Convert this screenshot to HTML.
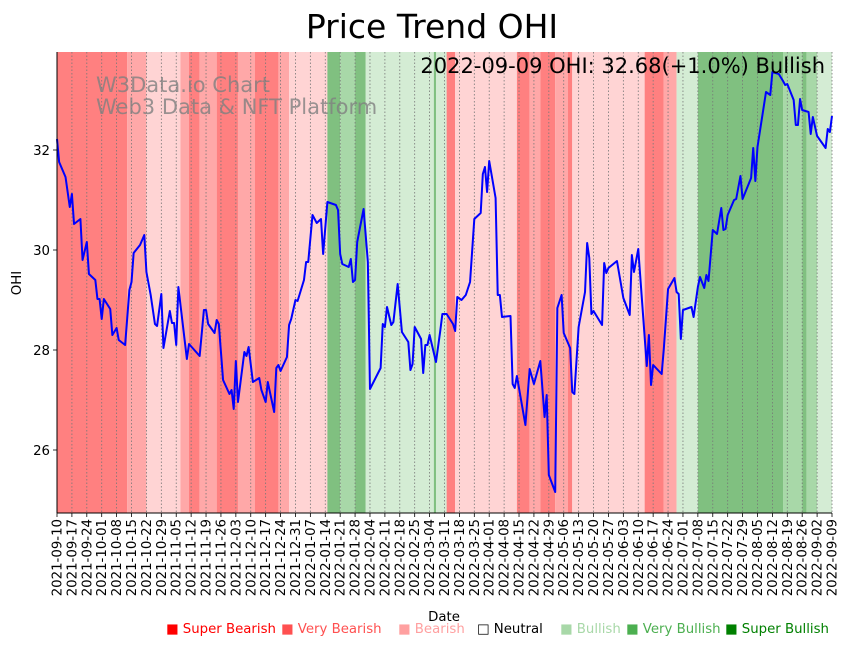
<!DOCTYPE html>
<html><head><meta charset="utf-8"><style>
body{margin:0;background:#fff;font-family:"DejaVu Sans","Liberation Sans",sans-serif}
#wrap{position:relative;width:848px;height:646px;overflow:hidden}
.leg{position:absolute;top:622px;font-size:13.3px;white-space:nowrap}
</style></head><body>
<div id="wrap">
<svg id="chart" width="848" height="646"></svg>
<span class="leg" style="left:166px;color:#ff0000">■ Super Bearish</span>
<span class="leg" style="left:281px;color:#ff5050">■ Very Bearish</span>
<span class="leg" style="left:398px;color:#ffa0a0">■ Bearish</span>
<span class="leg" style="left:477px;color:#000">□ Neutral</span>
<span class="leg" style="left:560px;color:#a8d8a8">■ Bullish</span>
<span class="leg" style="left:626px;color:#4caf50">■ Very Bullish</span>
<span class="leg" style="left:725px;color:#008000">■ Super Bullish</span>
</div>
<script>
const startDate = "2021-09-10";
const dayIdx = [0,1,4,6,7,8,11,12,14,15,18,19,20,21,22,25,26,28,29,32,34,35,36,39,41,42,44,46,47,49,50,53,54,55,56,57,61,62,67,69,70,71,74,75,76,78,81,82,83,84,85,88,89,90,92,95,96,98,99,102,103,104,105,108,109,110,112,113,116,117,118,120,122,124,125,127,131,132,133,134,137,138,139,140,141,144,146,147,152,153,154,155,157,158,160,162,165,166,167,168,171,172,173,174,175,178,180,181,183,186,187,188,190,192,194,196,199,200,201,202,203,206,207,208,209,213,214,215,216,220,222,224,227,229,230,231,234,235,237,238,241,242,243,245,248,249,250,251,252,256,257,258,259,263,266,269,270,271,273,277,278,279,280,284,285,287,290,291,292,293,294,298,299,301,302,304,305,306,308,310,312,313,314,315,318,319,321,322,326,327,328,329,333,335,336,339,341,342,343,346,347,348,349,350,353,354,355,357,361,362,363,364];
const prices = [32.22,31.76,31.46,30.86,31.12,30.52,30.62,29.80,30.16,29.52,29.40,29.02,29.02,28.62,29.02,28.82,28.30,28.44,28.20,28.10,29.20,29.36,29.94,30.10,30.30,29.56,29.10,28.52,28.48,29.12,28.04,28.78,28.54,28.54,28.10,29.26,27.82,28.12,27.88,28.80,28.80,28.52,28.34,28.60,28.52,27.40,27.12,27.20,26.82,27.78,26.96,27.96,27.88,28.06,27.36,27.44,27.20,26.96,27.36,26.76,27.64,27.70,27.58,27.86,28.50,28.62,29.00,28.98,29.40,29.76,29.76,30.70,30.54,30.62,29.92,30.96,30.90,30.80,29.92,29.72,29.66,29.82,29.36,29.40,30.16,30.82,29.76,27.22,27.64,28.52,28.46,28.86,28.50,28.56,29.32,28.36,28.16,27.60,27.72,28.46,28.22,27.54,28.10,28.10,28.30,27.76,28.38,28.72,28.72,28.52,28.38,29.06,29.00,29.10,29.36,30.62,30.74,31.52,31.66,31.16,31.78,31.04,29.10,29.10,28.66,28.68,27.32,27.24,27.48,26.50,27.62,27.32,27.78,26.66,27.10,25.50,25.16,28.84,29.10,28.34,28.04,27.16,27.12,28.46,29.16,30.14,29.84,28.72,28.78,28.50,29.74,29.54,29.64,29.78,29.04,28.70,29.90,29.56,30.02,27.68,28.30,27.30,27.70,27.52,28.02,29.22,29.44,29.16,29.12,28.22,28.80,28.86,28.66,29.26,29.46,29.24,29.50,29.38,30.40,30.32,30.84,30.40,30.42,30.70,31.00,31.02,31.48,31.02,31.44,32.04,31.38,32.06,33.16,33.10,33.56,33.52,33.38,33.30,33.32,33.00,32.50,32.50,33.02,32.80,32.76,32.32,32.66,32.28,32.04,32.42,32.36,32.68];
const bandStart = [0,33,42,58,62,67,75,85,93,104,109,127,133,140,145,177,178,183,187,216,222,227,234,240,242,276,285,291,301,341,350,352,357];
const bandEnd   = [33,42,58,62,67,75,85,93,104,109,127,133,140,145,177,178,183,187,216,222,227,234,240,242,276,285,291,301,341,350,352,357,365];
const bandLevel = [-3,-2,-1,-2,-3,-2,-3,-2,-3,-2,-1,3,2,3,1,3,1,-3,-1,-3,-2,-3,-2,-3,-1,-3,-2,1,3,2,3,2,1];
const yTicks = [26,28,30,32];
const totalDays = 364;

const NS="http://www.w3.org/2000/svg";
const svg=document.getElementById('chart');
const L=57,R=832,T=52,B=513, yMin=24.74,yMax=33.96;
const xS=d=>L+(d/totalDays)*(R-L);
const yS=v=>B-(v-yMin)/(yMax-yMin)*(B-T);
const lvlColor={"-3":"#ff8080","-2":"#ffa8a8","-1":"#ffd4d4","0":"#ffffff","1":"#d4ecd4","2":"#a8d8a8","3":"#80c080"};
function mk(tag,attrs,parent){const e=document.createElementNS(NS,tag);for(const k in attrs)e.setAttribute(k,attrs[k]);(parent||svg).appendChild(e);return e;}

for(let i=0;i<bandStart.length;i++){
  const r=mk('rect',{x:xS(bandStart[i]),y:T,width:Math.max(0,Math.min(R,xS(bandEnd[i]))-xS(bandStart[i])),height:B-T,fill:lvlColor[bandLevel[i]]});
  
  
}
function fmt(d){const t=new Date(startDate+"T00:00:00Z");t.setUTCDate(t.getUTCDate()+d);return t.toISOString().slice(0,10);}
for(let d=0;d<=totalDays;d+=7){
  const x=xS(d);
  const g=mk('line',{x1:x,x2:x,y1:T,y2:B,stroke:'#777','stroke-width':0.8,'stroke-dasharray':'1.5,2'});
  
  
  mk('line',{x1:x,x2:x,y1:B,y2:B+4,stroke:'#000','stroke-width':0.8});
  const t=mk('text',{x:0,y:0,transform:`translate(${x+4.5},${B+6}) rotate(-90)`,'text-anchor':'end','font-size':'13.3px',fill:'#000'});
  t.textContent=fmt(d);
  
  
}
yTicks.forEach(v=>{
  const y=yS(v);
  mk('line',{x1:L-4,x2:L,y1:y,y2:y,stroke:'#000','stroke-width':0.8});
  const t=mk('text',{x:L-7,y:y+5,'text-anchor':'end','font-size':'13.3px'});
  t.textContent=v;
  
  
});
const pl=mk('polyline',{points:dayIdx.map((d,i)=>xS(d)+','+yS(prices[i])).join(' '),fill:'none',stroke:'#0000ff','stroke-width':2,'stroke-linejoin':'round'});


mk('line',{x1:L,x2:L,y1:T,y2:B,stroke:'#000','stroke-width':1});
mk('line',{x1:L,x2:R,y1:B,y2:B,stroke:'#000','stroke-width':1});

const w1=mk('text',{x:96,y:92,'font-size':'21px',fill:'#808080','fill-opacity':0.8});w1.textContent='W3Data.io Chart';

const w2=mk('text',{x:96,y:114,'font-size':'21px',fill:'#808080','fill-opacity':0.8});w2.textContent='Web3 Data & NFT Platform';

const ttl=mk('text',{x:432,y:38,'text-anchor':'middle','font-size':'33px'});ttl.textContent='Price Trend OHI';

const ann=mk('text',{x:825,y:73,'text-anchor':'end','font-size':'21px'});ann.textContent='2022-09-09 OHI: 32.68(+1.0%) Bullish';

const yl=mk('text',{x:0,y:0,transform:'translate(21,283) rotate(-90)','text-anchor':'middle','font-size':'13.3px'});yl.textContent='OHI';

const xl=mk('text',{x:444,y:621,'text-anchor':'middle','font-size':'13.3px'});xl.textContent='Date';

</script>
</body></html>
